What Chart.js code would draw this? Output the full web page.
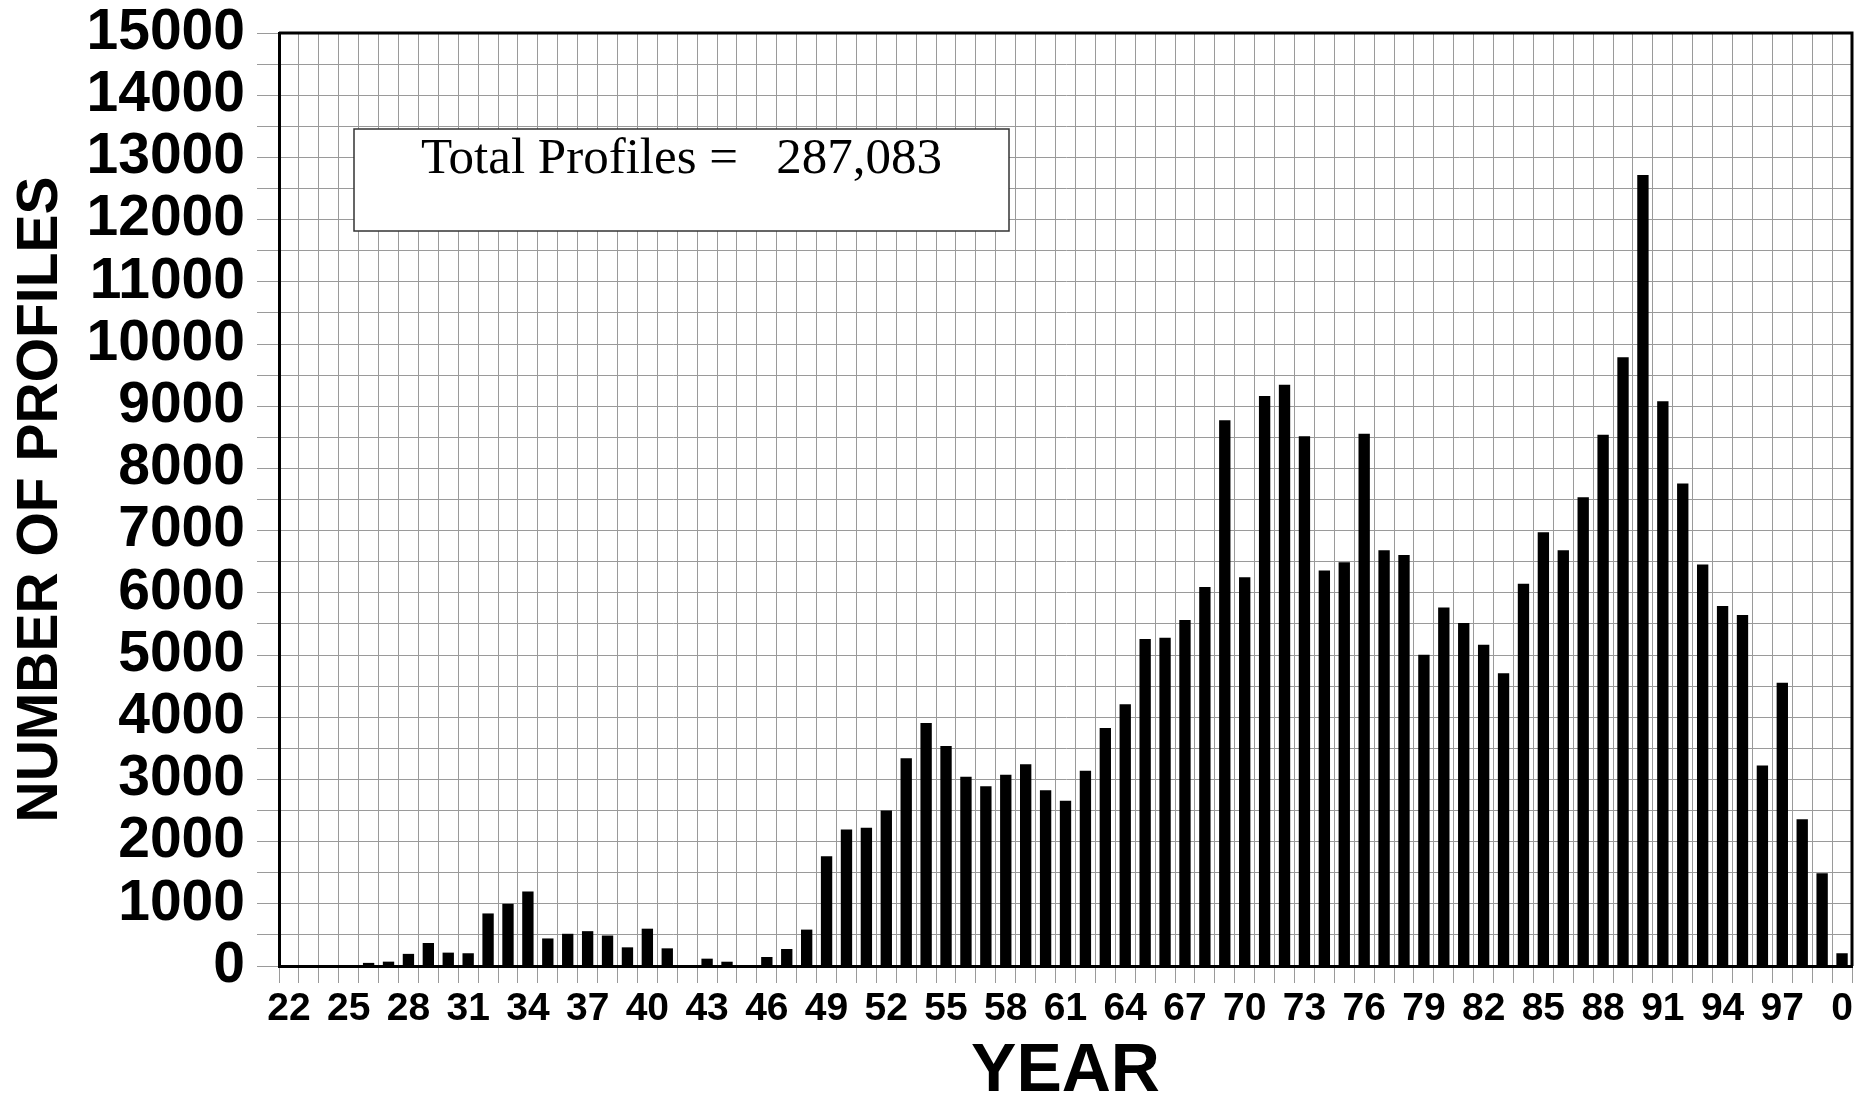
<!DOCTYPE html>
<html>
<head>
<meta charset="utf-8">
<script src="https://cdn.jsdelivr.net/npm/chart.js@4.4.1/dist/chart.umd.min.js"></script>
<style>
  html, body { margin: 0; padding: 0; background: #fff; }
  canvas { display: block; }
</style>
</head>
<body>
<canvas id="chart" width="1859" height="1103"></canvas>
<script>
// one bar per year, 1922 .. 2000
const years = [
  1922, 1923, 1924, 1925, 1926, 1927, 1928, 1929, 1930, 1931,
  1932, 1933, 1934, 1935, 1936, 1937, 1938, 1939, 1940, 1941,
  1942, 1943, 1944, 1945, 1946, 1947, 1948, 1949, 1950, 1951,
  1952, 1953, 1954, 1955, 1956, 1957, 1958, 1959, 1960, 1961,
  1962, 1963, 1964, 1965, 1966, 1967, 1968, 1969, 1970, 1971,
  1972, 1973, 1974, 1975, 1976, 1977, 1978, 1979, 1980, 1981,
  1982, 1983, 1984, 1985, 1986, 1987, 1988, 1989, 1990, 1991,
  1992, 1993, 1994, 1995, 1996, 1997, 1998, 1999, 2000
];

const profiles = [
  0, 0, 0, 0, 50, 70, 195, 370, 215, 205,
  845, 1000, 1198, 443, 518, 560, 490, 300, 600, 284,
  0, 118, 69, 0, 145, 273, 585, 1763, 2195, 2221,
  2500, 3342, 3905, 3536, 3044, 2888, 3076, 3245, 2824, 2655,
  3141, 3827, 4209, 5259, 5278, 5563, 6094, 8775, 6249, 9164,
  9345, 8516, 6360, 6492, 8556, 6684, 6607, 5004, 5763, 5516,
  5166, 4706, 6147, 6973, 6684, 7536, 8542, 9787, 12719, 9079,
  7758, 6453, 5788, 5644, 3222, 4552, 2361, 1492, 205
];

// shown under every third bar
const yearTicks = [
  '22', '25', '28', '31', '34', '37', '40', '43', '46', '49',
  '52', '55', '58', '61', '64', '67', '70', '73', '76', '79',
  '82', '85', '88', '91', '94', '97', '0'
];

const totalText = 'Total Profiles =   287,083';

const sans = 'Liberation Sans';
const gridGray = '#9a9a9a';

// frame on top/right plus the boxed total
const framePlugin = {
  id: 'frame',
  afterDraw(chart) {
    const { ctx, chartArea: a } = chart;
    ctx.save();
    ctx.strokeStyle = '#000';
    ctx.lineWidth = 3;
    ctx.beginPath();
    ctx.moveTo(a.left, a.top);
    ctx.lineTo(a.right, a.top);
    ctx.lineTo(a.right, a.bottom);
    ctx.stroke();

    const bx = a.left + 75, by = a.top + 96, bw = 655, bh = 102;
    ctx.fillStyle = '#fff';
    ctx.fillRect(bx, by, bw, bh);
    ctx.lineWidth = 1.5;
    ctx.strokeStyle = '#333';
    ctx.strokeRect(bx, by, bw, bh);
    ctx.fillStyle = '#000';
    ctx.font = '51px "Liberation Serif"';
    ctx.textAlign = 'center';
    ctx.textBaseline = 'alphabetic';
    ctx.fillText(totalText, bx + bw / 2, by + 44);
    ctx.restore();
  }
};

new Chart(document.getElementById('chart'), {
  type: 'bar',
  data: {
    labels: years,
    datasets: [{
      data: profiles,
      backgroundColor: '#000',
      borderWidth: 0,
      barPercentage: 0.57,
      categoryPercentage: 1.0
    }]
  },
  options: {
    responsive: false,
    animation: false,
    layout: { padding: { top: 33, right: 7, left: 0, bottom: 0 } },
    plugins: {
      legend: { display: false },
      tooltip: { enabled: false }
    },
    scales: {
      x: {
        offset: true,
        grid: { offset: true, color: gridGray, lineWidth: 1, tickLength: 17 },
        border: { color: '#000', width: 3 },
        ticks: {
          autoSkip: false,
          maxRotation: 0,
          minRotation: 0,
          padding: 3,
          color: '#000',
          font: { family: sans, weight: 'bold', size: 39 },
          callback: (v, i) => (i % 3 === 0 ? yearTicks[i / 3] : '')
        },
        title: {
          display: true,
          text: 'YEAR',
          color: '#000',
          font: { family: sans, weight: 'bold', size: 68, lineHeight: 0.9 },
          padding: { top: 0, bottom: 0 }
        },
        afterFit: (s) => { s.height = 137; }
      },
      y: {
        min: 0,
        max: 15000,
        grid: { color: gridGray, lineWidth: 1, tickLength: 22 },
        border: { color: '#000', width: 3 },
        ticks: {
          stepSize: 500,
          autoSkip: false,
          padding: 12,
          color: '#000',
          // small lineHeight keeps the top label from pushing the plot down
          font: { family: sans, weight: 'bold', size: 57, lineHeight: 0.7 },
          callback: (v) => (v % 1000 === 0 ? String(v) : '')
        },
        title: {
          display: true,
          text: 'NUMBER OF PROFILES',
          color: '#000',
          font: { family: sans, weight: 'bold', size: 57, lineHeight: 1 },
          padding: { top: 13, bottom: 0 }
        },
        afterFit: (s) => { s.width = 279; }
      }
    }
  },
  plugins: [framePlugin]
});
</script>
</body>
</html>
